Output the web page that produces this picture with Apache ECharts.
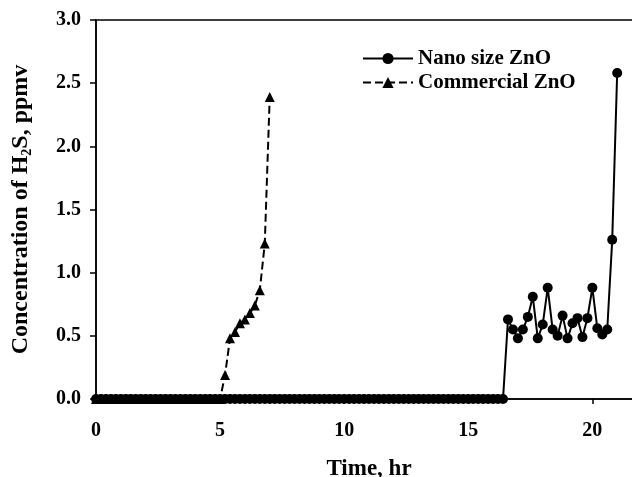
<!DOCTYPE html>
<html>
<head>
<meta charset="utf-8">
<script src="https://cdn.jsdelivr.net/npm/echarts@6/dist/echarts.min.js"></script>
<style>
  html, body { margin: 0; padding: 0; background: #fff; }
  #chart { width: 632px; height: 477px; }
</style>
</head>
<body>
<div id="chart"></div>
<script>
// sampling times (hr) and H2S readings (ppmv)
var nanoTime = [
  0, 0.2, 0.4, 0.6, 0.8, 1.0, 1.2, 1.4, 1.6, 1.8, 2.0, 2.2, 2.4, 2.6, 2.8, 3.0, 3.2, 3.4, 3.6, 3.8,
  4.0, 4.2, 4.4, 4.6, 4.8, 5.0, 5.2, 5.4, 5.6, 5.8, 6.0, 6.2, 6.4, 6.6, 6.8, 7.0, 7.2, 7.4, 7.6, 7.8,
  8.0, 8.2, 8.4, 8.6, 8.8, 9.0, 9.2, 9.4, 9.6, 9.8, 10.0, 10.2, 10.4, 10.6, 10.8, 11.0, 11.2, 11.4, 11.6, 11.8,
  12.0, 12.2, 12.4, 12.6, 12.8, 13.0, 13.2, 13.4, 13.6, 13.8, 14.0, 14.2, 14.4, 14.6, 14.8, 15.0, 15.2, 15.4, 15.6, 15.8,
  16.0, 16.2, 16.4,
  16.6, 16.8, 17.0, 17.2, 17.4, 17.6, 17.8, 18.0, 18.2, 18.4, 18.6, 18.8, 19.0, 19.2, 19.4, 19.6, 19.8, 20.0,
  20.2, 20.4, 20.6, 20.8, 21.0
];
var nanoConc = [
  0, 0, 0, 0, 0, 0, 0, 0, 0, 0, 0, 0, 0, 0, 0, 0, 0, 0, 0, 0,
  0, 0, 0, 0, 0, 0, 0, 0, 0, 0, 0, 0, 0, 0, 0, 0, 0, 0, 0, 0,
  0, 0, 0, 0, 0, 0, 0, 0, 0, 0, 0, 0, 0, 0, 0, 0, 0, 0, 0, 0,
  0, 0, 0, 0, 0, 0, 0, 0, 0, 0, 0, 0, 0, 0, 0, 0, 0, 0, 0, 0,
  0, 0, 0,
  0.63, 0.55, 0.48, 0.55, 0.65, 0.81, 0.48, 0.59, 0.88, 0.55, 0.50, 0.66, 0.48, 0.60, 0.64, 0.49, 0.64, 0.88,
  0.56, 0.51, 0.55, 1.26, 2.58
];
var commTime = [
  0, 0.2, 0.4, 0.6, 0.8, 1.0, 1.2, 1.4, 1.6, 1.8, 2.0, 2.2, 2.4, 2.6, 2.8, 3.0, 3.2, 3.4, 3.6, 3.8,
  4.0, 4.2, 4.4, 4.6, 4.8, 5.0,
  5.2, 5.4, 5.6, 5.8, 6.0, 6.2, 6.4, 6.6, 6.8, 7.0
];
var commConc = [
  0, 0, 0, 0, 0, 0, 0, 0, 0, 0, 0, 0, 0, 0, 0, 0, 0, 0, 0, 0,
  0, 0, 0, 0, 0, 0,
  0.19, 0.48, 0.53, 0.60, 0.63, 0.68, 0.74, 0.86, 1.23, 2.39
];
var seriesNames = ['Nano size ZnO', 'Commercial ZnO'];
var yTicks = [0, 0.5, 1.0, 1.5, 2.0, 2.5, 3.0];

var serif = "'Liberation Serif', 'Times New Roman', serif";

function pairs(xs, ys) {
  var out = [];
  for (var i = 0; i < xs.length; i++) out.push([xs[i], ys[i]]);
  return out;
}

var myChart = echarts.init(document.getElementById('chart'));
var option = {
  backgroundColor: '#fff',
  animation: false,
  grid: {
    left: 96,
    top: 20,
    width: 546,   // x axis runs on past the right edge (cropped figure)
    height: 379,
    containLabel: false,
    outerBoundsMode: 'none',
    show: true,
    borderColor: '#000',
    borderWidth: 1.5,
    backgroundColor: 'transparent'
  },
  legend: {
    orient: 'vertical',
    left: 357,
    top: 43,
    itemWidth: 50,
    itemHeight: 14,
    itemGap: 3,
    itemTextGap: 11,
    textStyle: { fontFamily: serif, fontWeight: 'bold', fontSize: 21, color: '#000' },
    data: seriesNames
  },
  xAxis: {
    type: 'value',
    min: 0,
    max: 22,
    interval: 5,
    name: 'Time, hr',
    nameLocation: 'middle',
    nameGap: 59,
    nameTextStyle: { fontFamily: serif, fontWeight: 'bold', fontSize: 23, color: '#000' },
    axisLine: { lineStyle: { color: '#000', width: 1.5 } },
    axisTick: { length: 5, lineStyle: { color: '#000', width: 1.5 } },
    axisLabel: {
      margin: 22,
      showMaxLabel: false,
      fontFamily: serif, fontWeight: 'bold', fontSize: 20, color: '#000'
    },
    splitLine: { show: false }
  },
  yAxis: {
    type: 'value',
    min: yTicks[0],
    max: yTicks[yTicks.length - 1],
    interval: 0.5,
    name: '{a|Concentration of H}{s|2}{a|S, ppmv}',
    nameLocation: 'middle',
    nameRotate: 90,
    nameGap: 62,
    nameTextStyle: {
      color: '#000',
      rich: {
        a: { fontFamily: serif, fontWeight: 'bold', fontSize: 24, lineHeight: 26, color: '#000' },
        s: { fontFamily: serif, fontWeight: 'bold', fontSize: 14, lineHeight: 14, verticalAlign: 'bottom', color: '#000' }
      }
    },
    axisLine: { show: true, lineStyle: { color: '#000', width: 1.5 } },
    axisTick: { show: true, length: 6, lineStyle: { color: '#000', width: 1.5 } },
    axisLabel: {
      margin: 15,
      fontFamily: serif, fontWeight: 'bold', fontSize: 20, color: '#000',
      formatter: function (v) { return v.toFixed(1); }
    },
    splitLine: { show: false }
  },
  series: [
    {
      name: seriesNames[1],
      type: 'line',
      data: pairs(commTime, commConc),
      symbol: 'triangle',
      symbolSize: 10,
      showAllSymbol: true,
      itemStyle: { color: '#000' },
      lineStyle: { color: '#000', width: 2, type: [8, 4] }
    },
    {
      name: seriesNames[0],
      type: 'line',
      data: pairs(nanoTime, nanoConc),
      symbol: 'circle',
      symbolSize: 10,
      showAllSymbol: true,
      itemStyle: { color: '#000' },
      lineStyle: { color: '#000', width: 2 }
    }
  ]
};
myChart.setOption(option);
window.addEventListener('resize', function () {
  myChart.resize();
});
</script>
</body>
</html>
